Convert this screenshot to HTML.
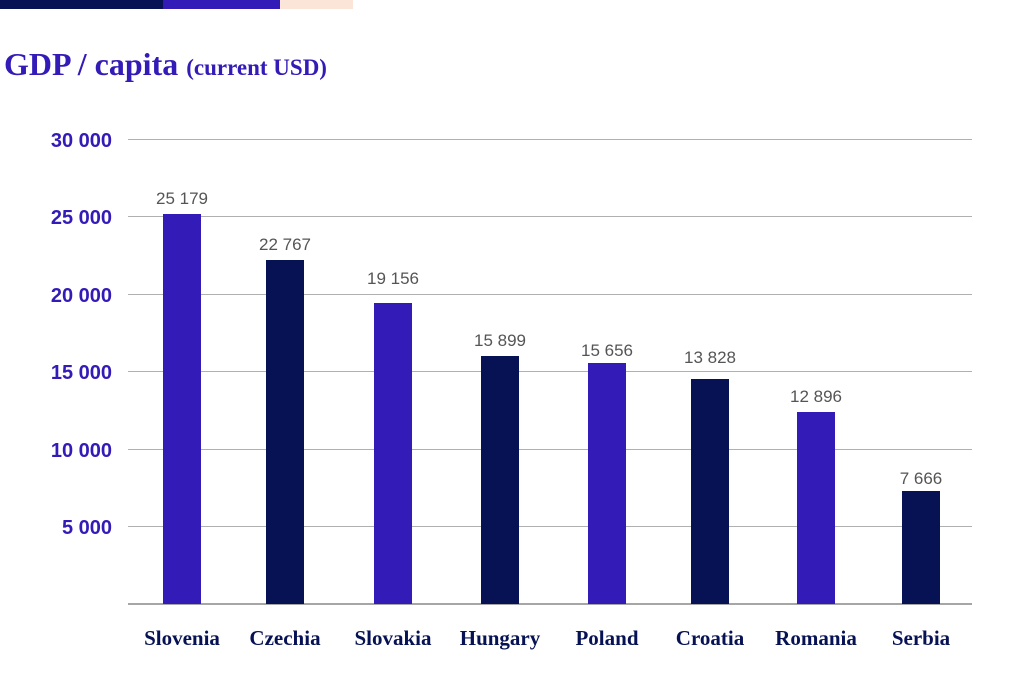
<!DOCTYPE html>
<html><head><meta charset="utf-8"><style>
body{margin:0;width:1024px;height:683px;background:#fff;overflow:hidden;position:relative;font-family:"Liberation Sans",sans-serif}
.a{position:absolute}
</style></head><body>
<div class="a" style="left:0;top:0;width:163px;height:9px;background:#061254"></div>
<div class="a" style="left:163px;top:0;width:117px;height:9px;background:#331bb8"></div>
<div class="a" style="left:280px;top:0;width:73px;height:9px;background:#fbe4d8"></div>
<svg class="a" style="left:0;top:0" width="1024" height="683">
<text x="4" y="75" font-family="Liberation Serif" font-weight="bold" fill="#331bb8" font-size="32">GDP / capita <tspan font-size="23">(current USD)</tspan></text>
<g stroke="#b0b0b0" stroke-width="1">
<line x1="128" x2="972" y1="139.5" y2="139.5"/><line x1="128" x2="972" y1="216.5" y2="216.5"/>
<line x1="128" x2="972" y1="294.5" y2="294.5"/><line x1="128" x2="972" y1="371.5" y2="371.5"/>
<line x1="128" x2="972" y1="449.5" y2="449.5"/><line x1="128" x2="972" y1="526.5" y2="526.5"/>
</g>
<line x1="128" x2="972" y1="604" y2="604" stroke="#888" stroke-width="1.5"/>
<g fill="#331bb8" font-size="20" font-weight="bold" text-anchor="end">
<text x="112" y="147">30 000</text><text x="112" y="224">25 000</text><text x="112" y="302">20 000</text>
<text x="112" y="379">15 000</text><text x="112" y="457">10 000</text><text x="112" y="534">5 000</text>
</g>
<g>
<rect x="163" y="214" width="38" height="390" fill="#331bb8"/>
<rect x="266" y="260" width="38" height="344" fill="#061254"/>
<rect x="374" y="303" width="38" height="301" fill="#331bb8"/>
<rect x="481" y="356" width="38" height="248" fill="#061254"/>
<rect x="588" y="363" width="38" height="241" fill="#331bb8"/>
<rect x="691" y="379" width="38" height="225" fill="#061254"/>
<rect x="797" y="412" width="38" height="192" fill="#331bb8"/>
<rect x="902" y="491" width="38" height="113" fill="#061254"/>
</g>
<g fill="#555" font-size="17" text-anchor="middle">
<text x="182" y="204">25 179</text><text x="285" y="250">22 767</text><text x="393" y="284">19 156</text>
<text x="500" y="346">15 899</text><text x="607" y="356">15 656</text><text x="710" y="363">13 828</text>
<text x="816" y="402">12 896</text><text x="921" y="484">7 666</text>
</g>
<g fill="#061254" font-size="21" font-family="Liberation Serif" font-weight="bold" text-anchor="middle">
<text x="182" y="645">Slovenia</text><text x="285" y="645">Czechia</text><text x="393" y="645">Slovakia</text>
<text x="500" y="645">Hungary</text><text x="607" y="645">Poland</text><text x="710" y="645">Croatia</text>
<text x="816" y="645">Romania</text><text x="921" y="645">Serbia</text>
</g>
</svg>
</body></html>
